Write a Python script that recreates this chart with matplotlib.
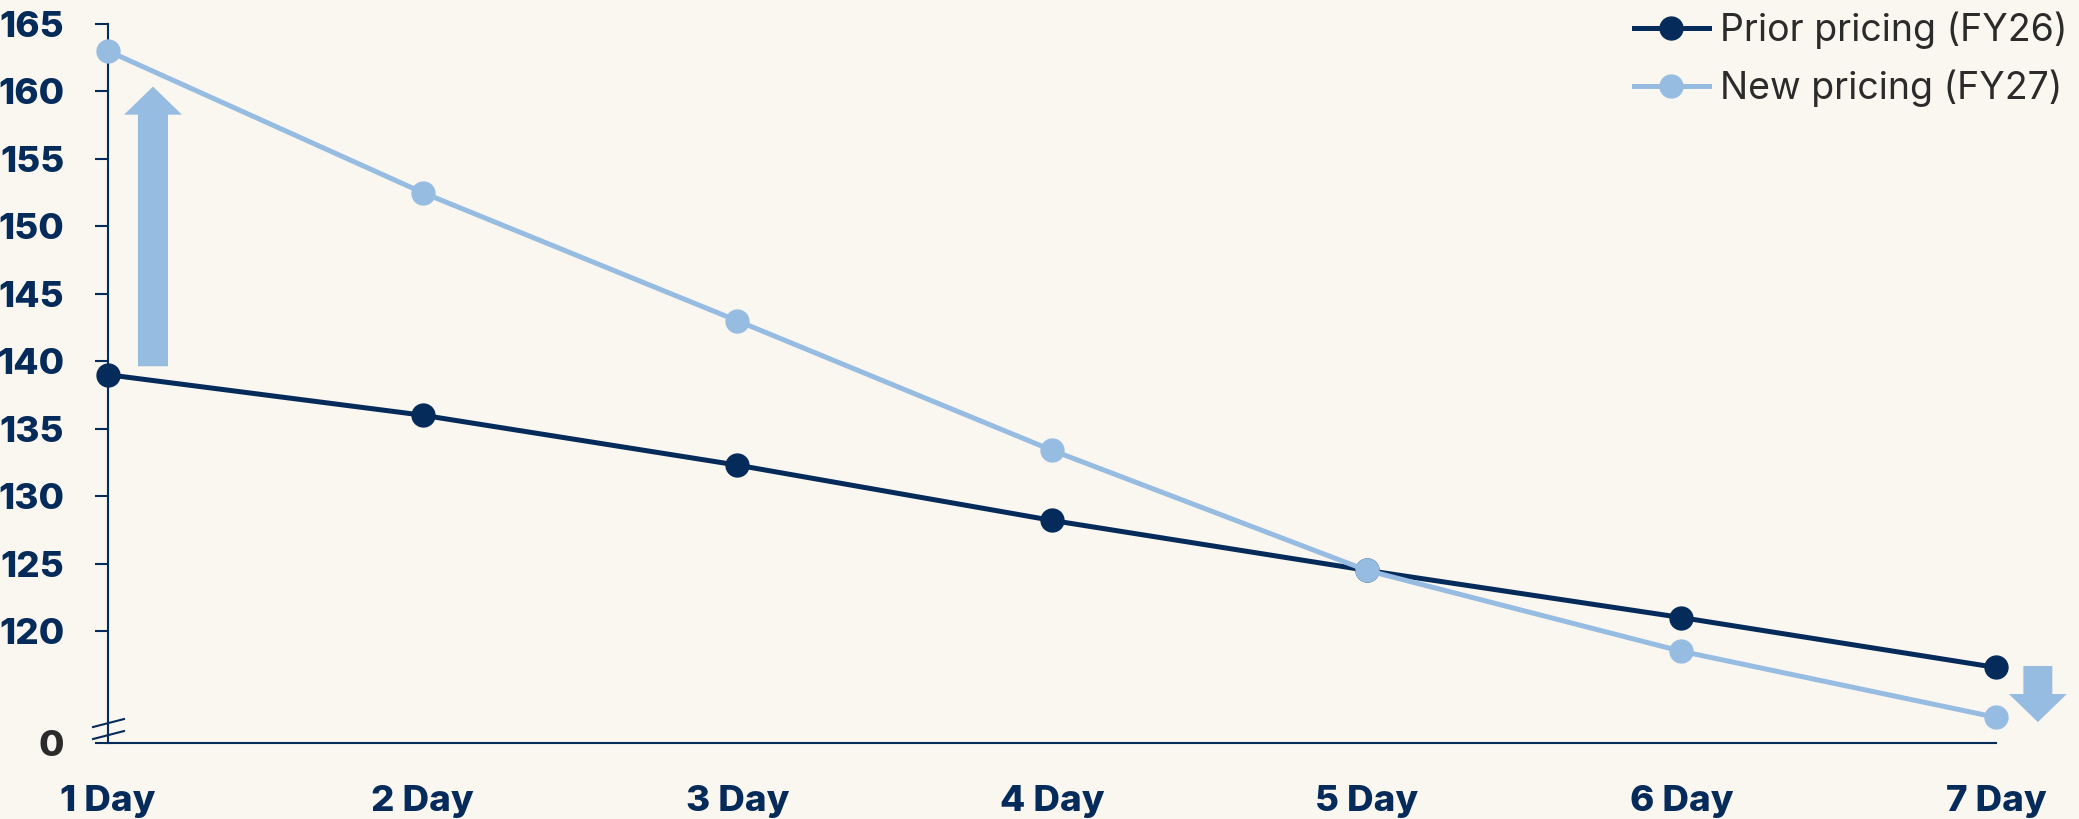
import matplotlib
matplotlib.use("Agg")
import matplotlib.pyplot as plt
from matplotlib.lines import Line2D
from matplotlib.patches import FancyArrow

# --- data ---
days = ["1 Day", "2 Day", "3 Day", "4 Day", "5 Day", "6 Day", "7 Day"]
prior_fy26 = [139.0, 136.0, 132.3, 128.2, 124.5, 121.0, 117.3]
new_fy27 = [163.0, 152.5, 143.0, 133.4, 124.5, 118.5, 113.6]
ytick_values = [120, 125, 130, 135, 140, 145, 150, 155, 160, 165]
series_labels = ["Prior pricing (FY26)", "New pricing (FY27)"]

# --- style ---
BG = "#FAF6F0"
NAVY = "#052B5A"
LIGHT = "#97BCE2"
TEXT_DARK = "#2B2B2B"
FONT = ["Inter", "DejaVu Sans"]
plt.rcParams["font.family"] = FONT

fig = plt.figure(figsize=(20.79, 8.19), dpi=100, facecolor=BG)
ax = fig.add_axes([108 / 2079, 1 - 743 / 819, (1996 - 108) / 2079, (743 - 24) / 819])
ax.set_facecolor(BG)

x = list(range(len(days)))
ax.plot(x, prior_fy26, color=NAVY, lw=3.6, marker="o", ms=16.5,
        label=series_labels[0], zorder=3, clip_on=False)
ax.plot(x, new_fy27, color=LIGHT, lw=3.6, marker="o", ms=16.5,
        label=series_labels[1], zorder=4, clip_on=False)

# broken axis: bottom of the axis stands for zero
y_floor = 111.7
ax.set_ylim(y_floor, 165)
ax.set_xlim(0, 6)

ax.set_yticks([y_floor] + ytick_values)
ax.set_yticklabels(["0"] + [str(v) for v in ytick_values])
ax.set_xticks(x)
ax.set_xticklabels(days)

ax.tick_params(axis="y", length=9.5, width=1.5, color=NAVY, pad=22,
               labelsize=26.5, labelcolor=NAVY)
ax.tick_params(axis="x", length=0, pad=30, labelsize=26.5, labelcolor=NAVY)
for lbl in ax.get_yticklabels() + ax.get_xticklabels():
    lbl.set_fontweight("heavy")
ax.get_yticklabels()[0].set_color(TEXT_DARK)

for side in ("top", "right"):
    ax.spines[side].set_visible(False)
for side in ("left", "bottom"):
    ax.spines[side].set_color(NAVY)
    ax.spines[side].set_linewidth(1.5)

# axis-break marks on the y axis
for y0 in (0.0055, 0.0222):
    ax.add_line(Line2D([-15 / 1888, 16 / 1888], [y0, y0 + 8 / 719],
                       transform=ax.transAxes, color=NAVY, lw=1.5, clip_on=False))

# direction arrows
ax.add_patch(FancyArrow(0.143, 139.63, 0, 160.36 - 139.63, width=0.0954,
                        head_width=0.184, head_length=2.08,
                        length_includes_head=True, color=LIGHT, lw=0,
                        zorder=2, clip_on=False))
ax.add_patch(FancyArrow(6.133, 117.41, 0, 113.25 - 117.41, width=0.092,
                        head_width=0.184, head_length=2.08,
                        length_includes_head=True, color=LIGHT, lw=0,
                        zorder=2, clip_on=False))

leg = fig.legend(loc="upper right", bbox_to_anchor=(1.0, 1.0),
                 frameon=False, fontsize=27, handlelength=2.0,
                 handletextpad=0.3, labelspacing=0.55, borderaxespad=0.0,
                 borderpad=0.3)
for t in leg.get_texts():
    t.set_color(TEXT_DARK)

fig.savefig("out.png", dpi=100, facecolor=BG)
